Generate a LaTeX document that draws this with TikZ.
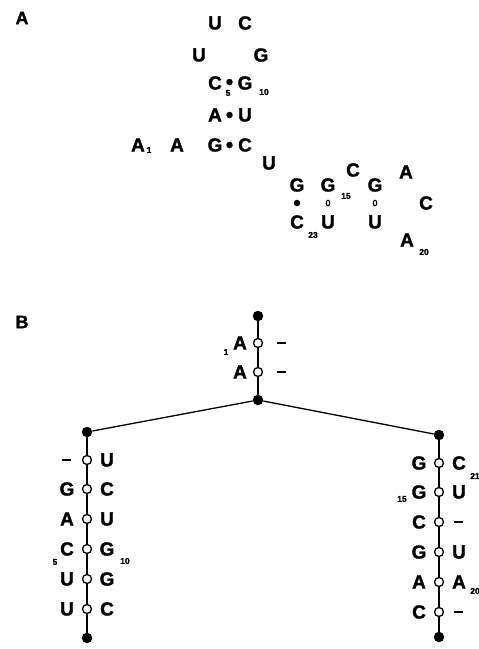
\documentclass[tikz,border=0pt]{standalone}
\usepackage{fontspec}
\setmainfont{Liberation Sans}[BoldFeatures={FakeBold=1.5}]
\usetikzlibrary{shapes.geometric}
\begin{document}
\begin{tikzpicture}[x=1pt,y=-1pt,
  base/.style={font=\bfseries\fontsize{19}{19}\selectfont, inner sep=0pt},
  panel/.style={font=\bfseries\fontsize{18}{18}\selectfont, inner sep=0pt},
  sub/.style={font=\bfseries\fontsize{8.5}{8.5}\selectfont, inner sep=0pt},
  pairdot/.style={circle, fill=black, inner sep=0pt, minimum size=6.5pt},
  wobble/.style={ellipse, draw=black, line width=1.1pt, inner sep=0pt, minimum width=3.5pt, minimum height=5.5pt},
  open/.style={circle, draw=black, fill=white, line width=1.3pt, inner sep=0pt, minimum size=9pt},
  term/.style={circle, fill=black, inner sep=0pt, minimum size=10.5pt},
  gap/.style={rectangle, fill=black, inner sep=0pt, minimum width=9pt, minimum height=2.8pt},
  stem/.style={line width=1.3pt}
]
\useasboundingbox (0,0) rectangle (479,649);

% ---------- Panel A: secondary structure ----------
\node[panel] (labA) at (22,18) {A};

% hairpin loop
\node[base] (a6)  at (199,55)  {U};
\node[base] (a7)  at (215,23)  {U};
\node[base] (a8)  at (245,23)  {C};
\node[base] (a9)  at (261,55)  {G};
% stem 1
\node[base] (a5)  at (215,83)  {C};
\node[base] (a10) at (245,83)  {G};
\node[base] (a4)  at (215,115) {A};
\node[base] (a11) at (245,115) {U};
\node[base] (a3)  at (215,145) {G};
\node[base] (a12) at (245,145) {C};
\node[pairdot] (p5)  at (229.5,82)  {};
\node[pairdot] (p4)  at (229.5,115) {};
\node[pairdot] (p3)  at (229.5,145) {};
% 5' tail
\node[base] (a1)  at (138,145) {A};
\node[base] (a2)  at (177,145) {A};
% linker
\node[base] (a13) at (269,163) {U};
% stem 2 and its loop
\node[base] (a14) at (297,185) {G};
\node[base] (a15) at (328,185) {G};
\node[base] (a16) at (353,170) {C};
\node[base] (a17) at (375,185) {G};
\node[base] (a18) at (406,172) {A};
\node[base] (a19) at (426,203) {C};
\node[base] (a20) at (407,240) {A};
\node[base] (a21) at (375,222) {U};
\node[base] (a22) at (328,222) {U};
\node[base] (a23) at (297,222) {C};
\node[pairdot] (p14) at (297,203) {};
\node[wobble]  (p15) at (328,203) {};
\node[wobble]  (p17) at (375,203) {};
% numbering
\node[sub] (n1)  at (149,150) {1};
\node[sub] (n5)  at (228,93)  {5};
\node[sub] (n10) at (264,92)  {10};
\node[sub] (n15) at (346,196) {15};
\node[sub] (n20) at (424,252) {20};
\node[sub] (n23) at (313,235) {23};

% ---------- Panel B: tree representation ----------
\node[panel] (labB) at (22,322) {B};

% root stem
\node[term] (r0) at (258,316) {};
\node[open] (r1) at (258,343) {};
\node[open] (r2) at (258,372) {};
\node[term] (rj) at (258,400) {};
\node[base] (r1l) at (240,343) {A};
\node[gap]  (r1r) at (281,343) {};
\node[base] (r2l) at (240,372) {A};
\node[gap]  (r2r) at (281,372) {};
\node[sub]  (rn1) at (226,352) {1};
\draw[stem] (r0) -- (r1) -- (r2) -- (rj);

% left branch
\node[term] (lt) at (87,432) {};
\node[term] (lb) at (87,638) {};
\foreach \i/\y/\r in {1/460/U, 2/489/C, 3/519/U, 4/549/G, 5/579/G, 6/609/C}{
  \node[open] (l\i) at (87,\y) {};
  \node[base] (l\i r) at (107,\y) {\r};
}
\node[gap]  (l1l) at (66,460) {};
\foreach \i/\y/\l in {2/489/G, 3/519/A, 4/549/C, 5/579/U, 6/609/U}{
  \node[base] (l\i l) at (67,\y) {\l};
}
\node[sub] (ln5)  at (55,562)  {5};
\node[sub] (ln10) at (125,561) {10};
\draw[stem] (lt) -- (l1) -- (l2) -- (l3) -- (l4) -- (l5) -- (l6) -- (lb);

% right branch
\node[term] (rt) at (439,435) {};
\node[term] (rb) at (439,637) {};
\foreach \i/\y/\l in {1/463/G, 2/492/G, 3/522/C, 4/552/G, 5/582/A, 6/612/C}{
  \node[open] (q\i) at (439,\y) {};
  \node[base] (q\i l) at (419,\y) {\l};
}
\foreach \i/\y/\r in {1/463/C, 2/492/U, 4/552/U, 5/582/A}{
  \node[base] (q\i r) at (459,\y) {\r};
}
\node[gap] (q3r) at (458,522) {};
\node[gap] (q6r) at (458,612) {};
\node[sub] (qn21) at (475,476) {21};
\node[sub] (qn15) at (402,499) {15};
\node[sub] (qn20) at (475,591) {20};
\draw[stem] (rt) -- (q1) -- (q2) -- (q3) -- (q4) -- (q5) -- (q6) -- (rb);

% branches from the junction
\draw[stem] (rj) -- (lt);
\draw[stem] (rj) -- (rt);
\end{tikzpicture}
\end{document}
